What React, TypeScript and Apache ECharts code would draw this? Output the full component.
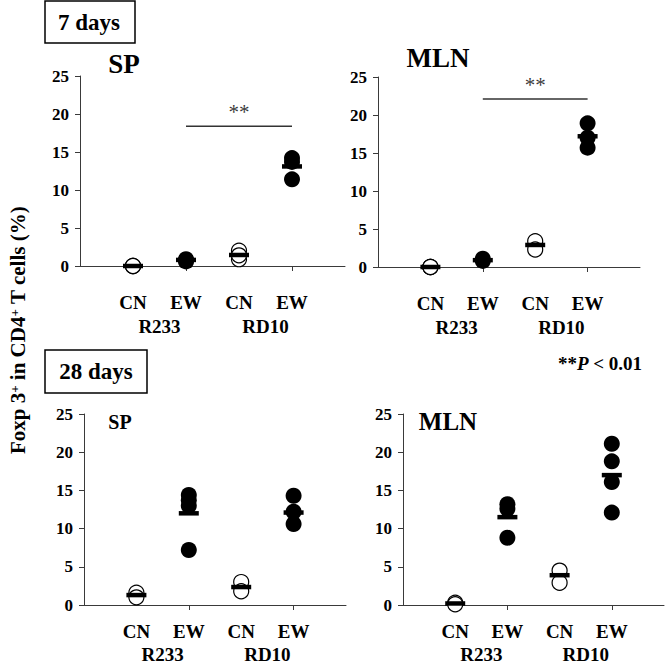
import React, { useEffect, useRef } from "react";
import * as echarts from "echarts";

// ---- data ----
const xCats = ["", "CN", "EW", "CN", "EW", ""];
const groupLabels = ["R233", "RD10"];
const panelTitles = ["SP", "MLN", "SP", "MLN"];

// 7 days, SP
const sp7_R233_CN = [0.0, 0.0, 0.0];
const sp7_R233_EW = [0.6, 0.9, 0.8];
const sp7_RD10_CN = [2.0, 0.9, 1.4];
const sp7_RD10_EW = [14.2, 13.7, 11.4];
const sp7_means = [0.0, 0.8, 1.45, 13.1];
// 7 days, MLN
const mln7_R233_CN = [0.0, 0.0, 0.0];
const mln7_R233_EW = [1.1, 0.8];
const mln7_RD10_CN = [3.4, 2.3];
const mln7_RD10_EW = [18.9, 17.0, 15.7];
const mln7_means = [0.0, 0.9, 2.9, 17.2];
// 28 days, SP
const sp28_R233_CN = [1.6, 1.0];
const sp28_R233_EW = [14.4, 13.7, 13.0, 7.2];
const sp28_RD10_CN = [3.0, 1.8];
const sp28_RD10_EW = [14.3, 12.2, 10.6];
const sp28_means = [1.3, 12.0, 2.35, 12.1];
// 28 days, MLN
const mln28_R233_CN = [0.3, 0.1];
const mln28_R233_EW = [13.2, 12.6, 8.8];
const mln28_RD10_CN = [4.5, 2.9];
const mln28_RD10_EW = [21.1, 18.8, 16.1, 12.1];
const mln28_means = [0.2, 11.5, 3.9, 17.0];

// significance bars (7 days)
const sigLevels = [18.4, 22.1];

const panels = [
  { cnA: sp7_R233_CN, ewA: sp7_R233_EW, cnB: sp7_RD10_CN, ewB: sp7_RD10_EW, means: sp7_means, sig: sigLevels[0] },
  { cnA: mln7_R233_CN, ewA: mln7_R233_EW, cnB: mln7_RD10_CN, ewB: mln7_RD10_EW, means: mln7_means, sig: sigLevels[1] },
  { cnA: sp28_R233_CN, ewA: sp28_R233_EW, cnB: sp28_RD10_CN, ewB: sp28_RD10_EW, means: sp28_means, sig: null as number | null },
  { cnA: mln28_R233_CN, ewA: mln28_R233_EW, cnB: mln28_RD10_CN, ewB: mln28_RD10_EW, means: mln28_means, sig: null as number | null },
];

const FONT = "'Liberation Serif', 'Times New Roman', serif";
const AXIS_COLOR = "#3a3a3a";

const grids = [
  { left: 80, top: 76, width: 265, height: 190 },
  { left: 378, top: 77, width: 262, height: 190 },
  { left: 84, top: 414, width: 262, height: 191 },
  { left: 403, top: 414, width: 262, height: 191 },
];
const catMargins = [27, 27, 17, 17];
const groupMargins = [51, 51, 40, 40];

export default function App() {
  const ref = useRef<HTMLDivElement>(null);
  useEffect(() => {
    document.body.style.margin = "0";
    if (!ref.current) return;
    const chart = echarts.init(ref.current, null, { renderer: "svg" });

    const xAxis: any[] = [];
    const yAxis: any[] = [];
    const series: any[] = [];

    grids.forEach((_, i) => {
      xAxis.push({
        type: "category",
        gridIndex: i,
        data: xCats,
        boundaryGap: false,
        axisLine: { lineStyle: { color: AXIS_COLOR, width: 1 } },
        axisTick: {
          show: true,
          length: 5,
          interval: (idx: number) => idx === 2 || idx === 4,
          lineStyle: { color: AXIS_COLOR },
        },
        axisLabel: {
          interval: 0,
          margin: catMargins[i],
          fontFamily: FONT,
          fontWeight: "bold",
          fontSize: 19,
          color: "#000",
        },
        splitLine: { show: false },
      });
      xAxis.push({
        type: "value",
        gridIndex: i,
        min: 0,
        max: 5,
        interval: 0.5,
        position: "bottom",
        axisLine: { show: false },
        axisTick: { show: false },
        splitLine: { show: false },
        axisLabel: {
          margin: groupMargins[i],
          fontFamily: FONT,
          fontWeight: "bold",
          fontSize: 19,
          color: "#000",
          formatter: (v: number) =>
            Math.abs(v - 1.5) < 1e-6 ? groupLabels[0] : Math.abs(v - 3.5) < 1e-6 ? groupLabels[1] : "",
        },
      });
      yAxis.push({
        type: "value",
        gridIndex: i,
        min: 0,
        max: 25,
        interval: 5,
        axisLine: { show: true, lineStyle: { color: AXIS_COLOR, width: 1 } },
        axisTick: { show: true, length: 5, lineStyle: { color: AXIS_COLOR } },
        splitLine: { show: false },
        axisLabel: {
          margin: 11,
          fontFamily: FONT,
          fontWeight: "bold",
          fontSize: 17,
          color: "#000",
        },
      });

      const p = panels[i];
      const xi = i * 2;
      series.push({
        type: "scatter",
        xAxisIndex: xi,
        yAxisIndex: i,
        clip: false,
        symbol: "circle",
        symbolSize: 15,
        itemStyle: { color: "#fff", borderColor: "#000", borderWidth: 1.2, opacity: 1 },
        data: [...p.cnA.map((v) => [1, v]), ...p.cnB.map((v) => [3, v])],
        z: 2,
      });
      series.push({
        type: "scatter",
        xAxisIndex: xi,
        yAxisIndex: i,
        clip: false,
        symbol: "circle",
        symbolSize: 16,
        itemStyle: { color: "#000", opacity: 1 },
        data: [...p.ewA.map((v) => [2, v]), ...p.ewB.map((v) => [4, v])],
        z: 3,
      });
      series.push({
        type: "scatter",
        xAxisIndex: xi,
        yAxisIndex: i,
        clip: false,
        symbol: "rect",
        symbolSize: [20, 4.5],
        itemStyle: { color: "#000", opacity: 1 },
        data: p.means.map((m, k) => [k + 1, m]),
        z: 4,
      });
      if (p.sig !== null) {
        series.push({
          type: "line",
          xAxisIndex: xi,
          yAxisIndex: i,
          showSymbol: false,
          symbol: "none",
          lineStyle: { color: "#333", width: 1.5 },
          data: [
            [2, p.sig],
            [4, p.sig],
          ],
          z: 2,
        });
        series.push({
          type: "scatter",
          xAxisIndex: xi,
          yAxisIndex: i,
          symbolSize: 0,
          clip: false,
          data: [[3, p.sig]],
          label: {
            show: true,
            position: "top",
            distance: 4,
            formatter: "**",
            fontFamily: FONT,
            fontSize: 21,
            color: "#000",
          },
        });
      }
    });

    const titlePos = [
      { x: 124, y: 64, size: 27 },
      { x: 438, y: 58, size: 27 },
      { x: 120, y: 422, size: 20 },
      { x: 448, y: 421, size: 25 },
    ];

    const graphic: any[] = [
      { type: "rect", shape: { x: 45, y: 1, width: 90, height: 42 }, style: { fill: "#fff", stroke: "#000", lineWidth: 1.5 } },
      { type: "text", x: 89, y: 22, style: { text: "7 days", fontFamily: FONT, fontWeight: "bold", fontSize: 23, fill: "#000", align: "center", verticalAlign: "middle" } },
      { type: "rect", shape: { x: 45, y: 350, width: 102, height: 43 }, style: { fill: "#fff", stroke: "#000", lineWidth: 1.5 } },
      { type: "text", x: 96, y: 371, style: { text: "28 days", fontFamily: FONT, fontWeight: "bold", fontSize: 23, fill: "#000", align: "center", verticalAlign: "middle" } },
      ...titlePos.map((t, i) => ({
        type: "text",
        x: t.x,
        y: t.y,
        style: { text: panelTitles[i], fontFamily: FONT, fontWeight: "bold", fontSize: t.size, fill: "#000", align: "center", verticalAlign: "middle" },
      })),
      {
        type: "text",
        x: 600,
        y: 363,
        style: {
          text: "{n|**}{i|P}{n| < 0.01}",
          align: "center",
          verticalAlign: "middle",
          rich: {
            n: { fontFamily: FONT, fontWeight: "bold", fontSize: 19, fill: "#000" },
            i: { fontFamily: FONT, fontWeight: "bold", fontStyle: "italic", fontSize: 19, fill: "#000" },
          },
        },
      },
      {
        type: "text",
        x: 18,
        y: 330,
        rotation: Math.PI / 2,
        style: {
          text: "{n|Foxp 3}{s|+}{n| in CD4}{s|+}{n| T cells (%)}",
          align: "center",
          verticalAlign: "middle",
          rich: {
            n: { fontFamily: FONT, fontWeight: "bold", fontSize: 21, fill: "#000", verticalAlign: "bottom" },
            s: { fontFamily: FONT, fontWeight: "bold", fontSize: 13, fill: "#000", verticalAlign: "top", padding: [0, 0, 8, 0] },
          },
        },
      },
    ];

    chart.setOption({
      animation: false,
      backgroundColor: "#fff",
      grid: grids.map((g) => ({ ...g, containLabel: false })),
      xAxis,
      yAxis,
      series,
      graphic,
    });
    return () => chart.dispose();
  }, []);
  return <div ref={ref} style={{ width: 667, height: 664 }} />;
}
